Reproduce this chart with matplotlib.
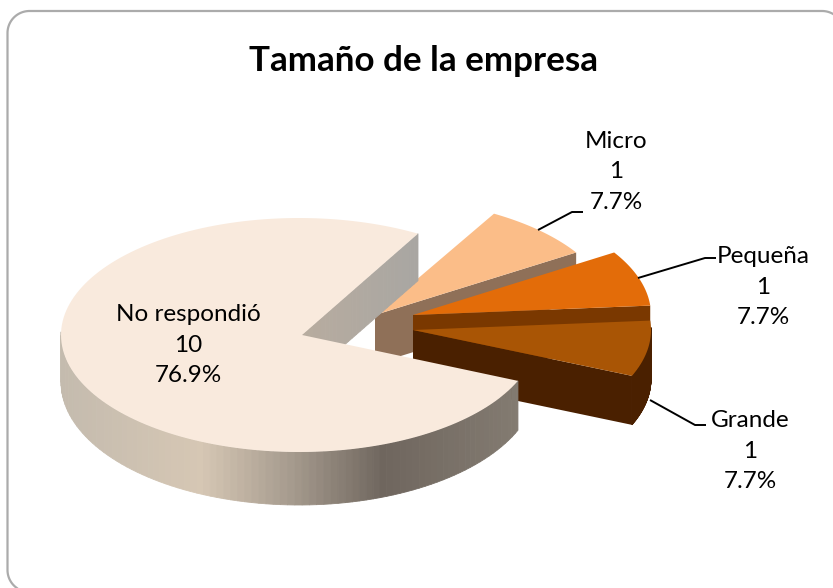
import numpy as np
import matplotlib
matplotlib.use("Agg")
import matplotlib.pyplot as plt
from matplotlib.patches import Polygon
from matplotlib.colors import to_rgb

# --- data ---
title = "Tamaño de la empresa"
categories = ["No respondió", "Grande", "Pequeña", "Micro"]
values = [10, 1, 1, 1]

# --- styling ---
top_colors = ["#F9EADD", "#A95505", "#E36C09", "#FBBD88"]
rim_colors = ["#B0A596", "#4A2000", "#7A3800", "#8C6E55"]
radial_colors = ["#B0A89E", "#4A2000", "#7A3800", "#8F7058"]
apexes = [(302, 335), (413, 330), (413, 315), (375, 315)]
centre_shift = [-3, 0, 0, 0]
RX, RY, DEPTH = 238, 117, 49
START = 60.0
W, H = 833, 588

fig = plt.figure(figsize=(W / 100, H / 100), dpi=100)
ax = fig.add_axes([0, 0, 1, 1])
ax.set_xlim(0, W)
ax.set_ylim(H, 0)
ax.axis("off")
FONT = "Lato"

# frame: rounded rectangle whose right and bottom sides fall outside the canvas
L, T, R, B, r = 7.5, 11, 844, 592, 22


def corner(cx, cy, a0, a1):
    t = np.radians(np.linspace(a0, a1, 30))
    return np.column_stack([cx + r * np.cos(t), cy - r * np.sin(t)])


frame = np.vstack([corner(L + r, B - r, 235, 180), corner(L + r, T + r, 180, 90),
                   corner(R - r, T + r, 90, 55)])
ax.plot(frame[:, 0], frame[:, 1], color="#ABABAB", lw=1.6, zorder=1)

total = sum(values)
spans = [v / total * 360 for v in values]
starts = START + np.concatenate([[0], np.cumsum(spans)[:-1]])


def arc(i, a0, a1, n=160):
    apex = apexes[i]
    t = np.radians(np.linspace(a0, a1, n))
    return np.column_stack([apex[0] + centre_shift[i] + RX * np.cos(t), apex[1] - RY * np.sin(t)]), t


def main_shade(f):
    # colour of the main slice's outer wall, left to right
    stops = [(0.0, "#C4BBAE"), (0.3, "#D6C7B4"), (0.5, "#A59A8D"),
             (0.7, "#6F665E"), (1.0, "#837B71")]
    xs = [s[0] for s in stops]
    cs = np.array([to_rgb(s[1]) for s in stops])
    return [np.interp(f, xs, cs[:, i]) for i in range(3)]


def draw_slice(i, z):
    apex, a0, span = np.array(apexes[i], float), starts[i], spans[i]
    pts, t = arc(i, a0, a0 + span)
    down = np.array([0, DEPTH])
    p = pts[0]
    if i != 0:
        ax.add_patch(Polygon([apex, p, p + down, apex + down],
                             fc=radial_colors[i], ec="none", zorder=z))
    else:
        n = 30
        for k in range(n):
            f0, f1 = k / n, (k + 1) / n
            a = apex + (p - apex) * f0
            b = apex + (p - apex) * f1
            c = np.array(to_rgb("#B8AC9F")) * (1 - f0) + np.array(to_rgb("#A8A6A2")) * f0
            d = np.array([0, 47])
            ax.add_patch(Polygon([a, b, b + d, a + d], fc=c, ec=c, lw=0.6, zorder=z))
    # outer rim wall (only the front-facing part)
    for k in range(len(pts) - 1):
        a, b = pts[k], pts[k + 1]
        s = np.sin(t[k])
        if i != 0 and s > 0.02:
            continue
        if i == 0:
            if s > 0.05:
                continue
            col = main_shade((a[0] - 61) / (517 - 61))
            da = np.array([0, 47 + 6 * max(0.0, -s)])
            db = np.array([0, 47 + 6 * max(0.0, -np.sin(t[k + 1]))])
        else:
            col = rim_colors[i]
            da = db = down
        ax.add_patch(Polygon([a, b, b + db, a + da], fc=col, ec=col, lw=0.6, zorder=z))
    # top face
    ax.add_patch(Polygon(np.vstack([[apex], pts]), fc=top_colors[i], ec="none", zorder=z + 0.5))


# back to front: Micro, Pequeña, Grande, No respondió
for z, i in zip([3, 4, 5, 6], [3, 2, 1, 0]):
    draw_slice(i, z)

# leader lines
leaders = [[(538, 230), (572, 212), (583, 212)],
           [(638, 278), (705, 258), (716, 258)],
           [(650, 400), (695, 425), (706, 425)]]
for l in leaders:
    xs, ys = zip(*l)
    ax.plot(xs, ys, color="black", lw=1.4, zorder=8, solid_capstyle="butt")

# labels
label_pos = [(188, 345), (750, 451), (763, 287), (616, 172)]
for i, (x, y) in enumerate(label_pos):
    txt = f"{categories[i]}\n{values[i]}\n{values[i] / total * 100:.1f}%"
    ax.text(x, y, txt, ha="center", va="center", fontsize=17.5, family=FONT,
            color="black", linespacing=1.53, zorder=9)

ax.text(424, 61, title, ha="center", va="center", fontsize=25.2, family=FONT,
        fontweight="bold", color="black", zorder=9)

fig.savefig("out.png", dpi=100)
